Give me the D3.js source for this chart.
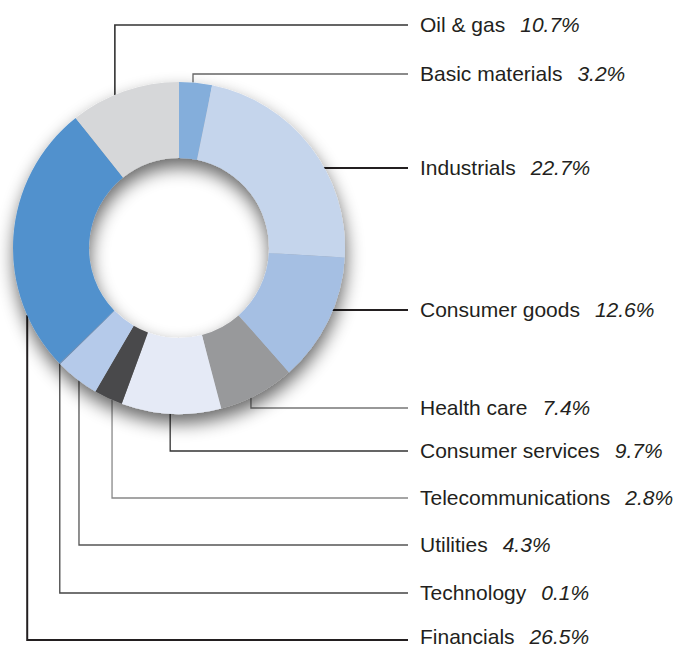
<!DOCTYPE html>
<html>
<head>
<meta charset="utf-8">
<script src="https://cdn.jsdelivr.net/npm/d3@7"></script>
<style>
  body { margin: 0; background: #fff; }
  text { font-family: "Liberation Sans", Arial, sans-serif; fill: #231f20; }
</style>
</head>
<body>
<div id="chart"></div>
<script>
//  data, clockwise from 12 o'clock
var sectors = ["Basic materials", "Industrials", "Consumer goods", "Health care", "Consumer services",
  "Telecommunications", "Utilities", "Technology", "Financials", "Oil & gas"];
var shares = [3.2, 22.7, 12.6, 7.4, 9.7, 2.8, 4.3, 0.1, 26.5, 10.7];
var shareLabels = shares.map(v => v.toFixed(1) + "%");

//  styles
var sliceColors = ["#84aedb", "#c5d5ec", "#a5bfe3", "#98999b", "#e5eaf6",
  "#4a4a4c", "#b5caea", "#6d8fb8", "#5191cd", "#d6d7d9"];
var lineColors = ["#666", "#231f20", "#231f20", "#777", "#333", "#888", "#555", "#444", "#231f20", "#333"];
var lineWidths = [1.3, 2, 2, 1.3, 1.3, 1.3, 1.3, 1.3, 2, 1.6];

//  leader layout: direction of the leader, row of the label, where on the slice it starts
var leaderDir = ["up", "side", "side", "down", "down", "down", "down", "down", "down", "up"];
var labelRowY = [74, 168, 310, 408, 451, 498, 545, 593, 640, 25];
var anchorFrac = [0.42, 0.5, 0.5, 0.59, 0.51, 0.36, 0.44, 0.5, 0.21, 0.41];

function draw_chart() {
  const w = 677, h = 649;
  const cx = 179, cy = 248, R = 166, r = 90;
  const lineEnd = 408, textX = 420;

  const svg = d3.select("#chart").append("svg").attr("width", w).attr("height", h);

  const defs = svg.append("defs");
  const f = defs.append("filter").attr("id", "shadow")
    .attr("x", "-30%").attr("y", "-30%").attr("width", "160%").attr("height", "160%");
  f.append("feGaussianBlur").attr("in", "SourceAlpha").attr("stdDeviation", 9).attr("result", "b");
  f.append("feOffset").attr("in", "b").attr("dx", 1).attr("dy", 9).attr("result", "o");
  f.append("feComponentTransfer").attr("in", "o").attr("result", "s")
    .append("feFuncA").attr("type", "linear").attr("slope", 0.6);
  const m = f.append("feMerge");
  m.append("feMergeNode").attr("in", "s");
  m.append("feMergeNode").attr("in", "SourceGraphic");

  const data = sectors.map((s, i) => ({ name: s, value: shares[i], label: shareLabels[i], i: i }));
  const pie = d3.pie().sort(null).value(d => d.value);
  const arcs = pie(data);
  const arc = d3.arc().innerRadius(r).outerRadius(R);

  //  leader lines
  const leaderPath = d => {
    const i = d.data.i;
    const y = labelRowY[i];
    if (leaderDir[i] == "side") {
      const px = cx + Math.sqrt(R * R - (y - cy) * (y - cy));
      return `M${px - 6},${y}H${lineEnd}`;
    }
    const a = d.startAngle + anchorFrac[i] * (d.endAngle - d.startAngle);
    const px = cx + R * Math.sin(a), py = cy - R * Math.cos(a);
    return `M${px},${py}V${y}H${lineEnd}`;
  };

  svg.append("g").selectAll("path").data(arcs).enter()
    .append("path")
    .attr("d", leaderPath)
    .attr("fill", "none")
    .attr("stroke", d => lineColors[d.data.i])
    .attr("stroke-width", d => lineWidths[d.data.i]);

  //  donut
  svg.append("g")
    .attr("transform", `translate(${cx},${cy})`)
    .attr("filter", "url(#shadow)")
    .selectAll("path").data(arcs).enter()
    .append("path")
    .attr("d", arc)
    .style("fill", d => sliceColors[d.data.i]);

  //  labels (kept inside the bottom edge)
  const t = svg.append("g").selectAll("text").data(data).enter()
    .append("text")
    .attr("x", textX)
    .attr("y", d => Math.min(labelRowY[d.i] + 7, h - 5))
    .style("font-size", "21px");
  t.append("tspan").text(d => d.name);
  t.append("tspan").attr("dx", 15).style("font-style", "italic").text(d => d.label);
}

draw_chart();
</script>
</body>
</html>
